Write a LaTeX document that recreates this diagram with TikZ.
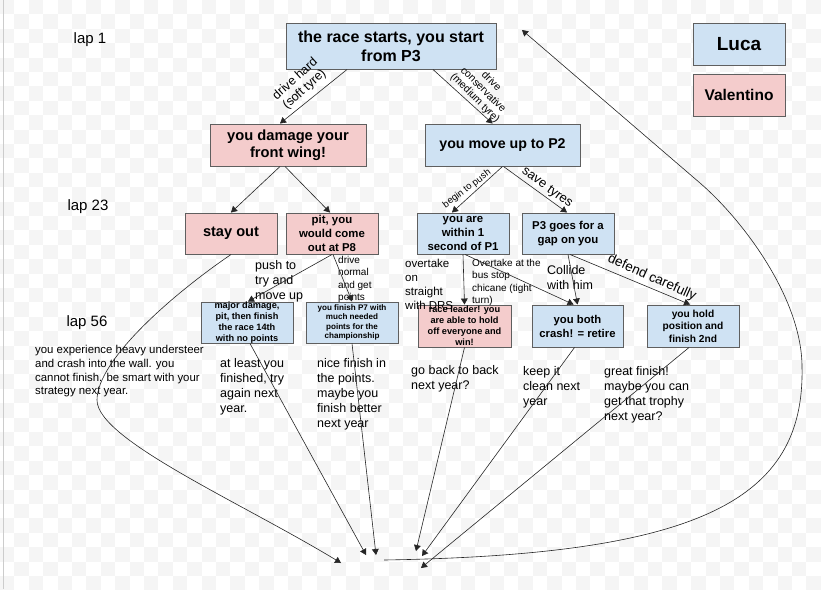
\documentclass[tikz,border=0pt]{standalone}
\usepackage{fontspec}
\setmainfont{Liberation Sans}
\usetikzlibrary{arrows}
\definecolor{lucaBlue}{HTML}{CFE2F3}
\definecolor{valPink}{HTML}{F4CCCC}
\definecolor{edgeGray}{HTML}{5F5F5F}
\definecolor{checkGray}{HTML}{F5F5F5}
\begin{document}
\begin{tikzpicture}[x=1pt,y=-1pt,
	lucaBox/.style={draw=edgeGray, line width=1pt, fill=lucaBlue, inner sep=0pt, align=center, minimum width=92pt, minimum height=42pt},
	valBox/.style={lucaBox, fill=valPink},
	noteText/.style={inner sep=0pt, anchor=north west, align=left},
	edgeText/.style={inner sep=0pt, align=center},
	link/.style={-triangle 60, line width=.6pt, draw=black!85}]
\useasboundingbox (0,0) rectangle (821,589);
\fill[white] (0,0) rectangle (821,589);
\foreach \i in {0,...,57}
	\foreach \j in {0,...,20}
		\fill[checkGray] (\i*14.4,{(2*\j+mod(\i,2))*14.4}) rectangle +(14.4,14.4);
\draw[gray!40, line width=1pt] (3,0) -- (3,589);
	\node[font=\fontsize{15}{18}\selectfont] (lap1) at (90,40) {lap 1};
	\node[font=\fontsize{15}{18}\selectfont] (lap23) at (88,207) {lap 23};
	\node[font=\fontsize{15}{18}\selectfont] (lap56) at (87,323) {lap 56};
	\node[lucaBox, minimum width=210pt, minimum height=46pt, font=\fontsize{16}{19}\selectfont\bfseries] (start) at (391,46) {the race starts, you start\\from P3};
	\node[lucaBox, font=\fontsize{19}{22}\selectfont\bfseries] (luca) at (739,44) {Luca};
	\node[valBox, font=\fontsize{15.5}{18}\selectfont\bfseries] (valentino) at (739,95) {Valentino};
	\node[valBox, minimum width=156pt, font=\fontsize{14.7}{16.5}\selectfont\bfseries] (damage) at (288,145) {you damage your\\front wing!};
	\node[lucaBox, minimum width=155pt, font=\fontsize{14.2}{17}\selectfont\bfseries] (moveup) at (502.5,145) {you move up to P2};
	\node[valBox, minimum height=41pt, font=\fontsize{14.6}{17}\selectfont\bfseries] (stayout) at (231,233.5) {stay out};
	\node[valBox, minimum height=41pt, font=\fontsize{11.4}{14}\selectfont\bfseries] (pit) at (332,233.5) {pit, you\\would come\\out at P8};
	\node[lucaBox, minimum height=41pt, font=\fontsize{11.4}{14}\selectfont\bfseries] (within) at (463,233.5) {you are\\within 1\\second of P1};
	\node[lucaBox, minimum height=41pt, font=\fontsize{11.4}{14.3}\selectfont\bfseries] (gap) at (568,233.5) {P3 goes for a\\gap on you};
	\node[lucaBox, minimum height=41pt, font=\fontsize{9.2}{10.8}\selectfont\bfseries] (majorDmg) at (247,322.5) {major damage,\\pit, then finish\\the race 14th\\with no points};
	\node[lucaBox, minimum height=41pt, font=\fontsize{8.1}{9.5}\selectfont\bfseries] (finishP7) at (352,322.5) {you finish P7 with\\much needed\\points for the\\championship};
	\node[valBox, minimum width=93pt, font=\fontsize{9.2}{11}\selectfont\bfseries] (raceLeader) at (464.5,326) {race leader! you\\are able to hold\\off everyone and\\win!};
	\node[lucaBox, minimum width=91pt, font=\fontsize{11.3}{14}\selectfont\bfseries] (crash) at (577.5,326) {you both\\crash! = retire};
	\node[lucaBox, font=\fontsize{10.2}{12.5}\selectfont\bfseries] (hold) at (693,326) {you hold\\position and\\finish 2nd};
	\node[edgeText, rotate=42, font=\fontsize{12.5}{14}\selectfont] (hardLbl) at (300,84.5) {drive hard\\(soft tyre)};
	\node[edgeText, rotate=-45, font=\fontsize{10.5}{11.5}\selectfont] (consLbl) at (483,90) {drive\\conservative\\(medium tyre)};
	\node[edgeText, rotate=37, font=\fontsize{9.5}{11}\selectfont] (pushLbl) at (467,189) {begin to push};
	\node[edgeText, rotate=-36, font=\fontsize{13}{15}\selectfont] (saveLbl) at (547,188) {save tyres};
	\node[edgeText, rotate=-24, font=\fontsize{13.5}{15}\selectfont] (defendLbl) at (652,278) {defend carefully};
	\node[noteText, font=\fontsize{12.5}{15}\selectfont] (tryLbl) at (255,260) {push to\\try and\\move up};
	\node[noteText, font=\fontsize{10}{12.5}\selectfont] (normalLbl) at (338,256) {drive\\normal\\and get\\points};
	\node[noteText, font=\fontsize{11.5}{14}\selectfont] (drsLbl) at (405,259) {overtake\\on\\straight\\with DRS};
	\node[noteText, font=\fontsize{10}{12.3}\selectfont] (chicaneLbl) at (472,259) {Overtake at the\\bus stop\\chicane (tight\\turn)};
	\node[noteText, font=\fontsize{12.5}{15}\selectfont] (collideLbl) at (547,265) {Collide\\with him};
	\node[noteText, font=\fontsize{11.4}{13.8}\selectfont] (understeer) at (35,345) {you experience heavy understeer\\and crash into the wall. you\\cannot finish. be smart with your\\strategy next year.};
	\node[noteText, font=\fontsize{12.5}{15}\selectfont] (atLeast) at (220,358) {at least you\\finished, try\\again next\\year.};
	\node[noteText, font=\fontsize{12.5}{15}\selectfont] (niceFinish) at (317,358) {nice finish in\\the points.\\maybe you\\finish better\\next year};
	\node[noteText, font=\fontsize{12.5}{15}\selectfont] (backToBack) at (411,365) {go back to back\\next year?};
	\node[noteText, font=\fontsize{12.5}{15}\selectfont] (keepClean) at (523,366) {keep it\\clean next\\year};
	\node[noteText, font=\fontsize{12.5}{15}\selectfont] (trophy) at (604,366) {great finish!\\maybe you can\\get that trophy\\next year?};
	\coordinate (endStay) at (341,563);
	\coordinate (endMajor) at (366,555);
	\coordinate (endP7) at (376,555);
	\coordinate (endLeader) at (416,551);
	\coordinate (endCrash) at (422,556);
	\coordinate (endHold) at (421,568);
	\coordinate (loopStart) at (384,560);
	\coordinate (loopTop) at (522,30);
	\draw[link] ([xshift=-44pt]start.south) -- ([xshift=-8pt]damage.north);
	\draw[link] ([xshift=42pt]start.south) -- ([xshift=-10pt]moveup.north);
	\draw[link] ([xshift=-8pt]damage.south) -- (stayout.north);
	\draw[link] ([xshift=-3pt]damage.south) -- ([xshift=-2pt]pit.north);
	\draw[link] (moveup.south) -- ([xshift=-11pt]within.north);
	\draw[link] ([xshift=1pt]moveup.south) -- ([xshift=-1pt]gap.north);
	\draw[link] (pit.south) -- ([xshift=1pt]majorDmg.north);
	\draw[link] ([xshift=1pt]pit.south) -- (finishP7.north);
	\draw[link] (within.south) -- (raceLeader.north);
	\draw[link] ([xshift=2pt]within.south) -- ([xshift=-4pt]crash.north);
	\draw[link] (gap.south) -- (crash.north);
	\draw[link] ([xshift=2pt]gap.south) -- ([xshift=-3pt]hold.north);
	\draw[link] (stayout.south) .. controls (173,294) and (97,360) .. (97,400)
		.. controls (97,440) and (243,503) .. (endStay);
	\draw[link] ([xshift=3pt]majorDmg.south) -- (endMajor);
	\draw[link] (finishP7.south) -- (endP7);
	\draw[link] (raceLeader.south) -- (endLeader);
	\draw[link] ([xshift=-3pt]crash.south) -- (endCrash);
	\draw[link] ([xshift=-4pt]hold.south) -- (endHold);
	\draw[link] (loopStart) .. controls (700,555) and (805,500) .. (802,367)
		.. controls (802,300) and (745,222) .. (700,183) -- (loopTop);
\end{tikzpicture}
\end{document}
